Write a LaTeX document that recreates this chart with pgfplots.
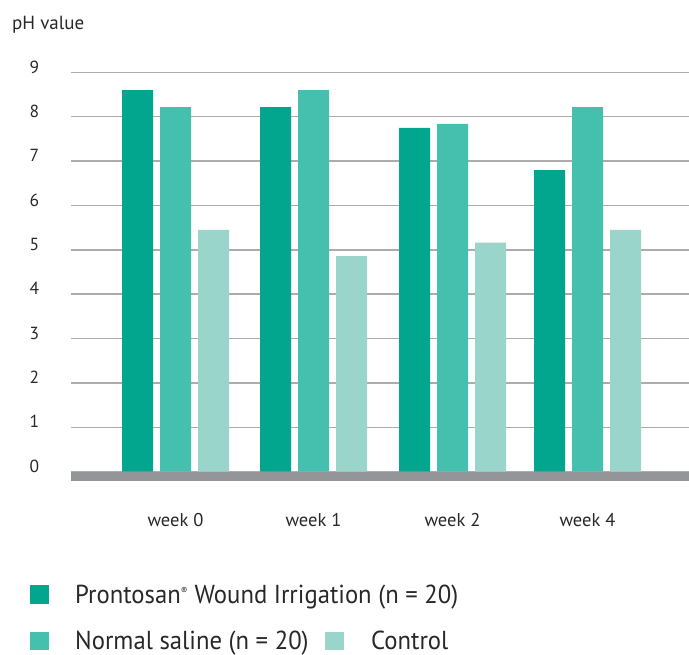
\documentclass[border=0pt]{standalone}
\usepackage{fontspec}
\setmainfont{PT Sans}
\newfontfamily\legfont[FakeStretch=0.95]{PT Sans}
\usepackage{pgfplots}
\pgfplotsset{compat=1.18}
\definecolor{cdark}{RGB}{2,166,142}
\definecolor{cmid}{RGB}{70,192,174}
\definecolor{clight}{RGB}{153,213,202}
\definecolor{cgrid}{RGB}{172,172,172}
\definecolor{cbase}{RGB}{147,149,152}
\definecolor{ctext}{RGB}{40,40,40}
\begin{document}
\begin{tikzpicture}[x=1pt,y=1pt]
\useasboundingbox (0,0) rectangle (689,655);
\begin{axis}[
  at={(71pt,183.4pt)}, anchor=origin,
  scale only axis, width=618pt, height=399.15pt,
  xmin=71, xmax=689, ymin=0, ymax=9,
  ybar=7pt, bar width=31pt,
  axis line style={draw=none}, tick style={draw=none},
  ytick={0,1,...,9},
  ymajorgrids, grid style={cgrid, line width=1.4pt},
  xtick={175.5,313.5,452.5,587.5},
  xticklabels={week 0, week 1, week 2, week 4},
  xticklabel style={anchor=base, yshift=-51pt, font=\fontsize{18.5}{20}\selectfont, text=ctext},
  yticklabel style={anchor=center, xshift=-36.5pt, yshift=5.5pt, font=\fontsize{17.5}{20}\selectfont, text=ctext},
  /pgf/number format/assume math mode=true,
  clip=false,
]
\addplot[fill=cdark, draw=none] coordinates {(175.5,8.60) (313.5,8.22) (452.5,7.75) (587.5,6.80)};
\addplot[fill=cmid, draw=none] coordinates {(175.5,8.22) (313.5,8.60) (452.5,7.84) (587.5,8.22)};
\addplot[fill=clight, draw=none] coordinates {(175.5,5.45) (313.5,4.86) (452.5,5.16) (587.5,5.45)};
\fill[cbase] (axis cs:71,0) rectangle ([yshift=-9.6pt]axis cs:689,0);
\end{axis}
\node[anchor=base west, inner sep=0, text=ctext, font=\fontsize{19}{20}\selectfont] at (12,625) {pH value};
% legend
\fill[cdark] (30,51) rectangle (49,70);
\node[anchor=base west, inner sep=0, text=ctext, font=\legfont\fontsize{26}{28}\selectfont] at (75,51) {Prontosan\textsuperscript{\fontsize{10}{10}\selectfont ®} Wound Irrigation (n = 20)};
\fill[cmid] (30,5) rectangle (49,23);
\node[anchor=base west, inner sep=0, text=ctext, font=\legfont\fontsize{26}{28}\selectfont] at (75,5) {Normal saline (n = 20)};
\fill[clight] (325,5) rectangle (344,23);
\node[anchor=base west, inner sep=0, text=ctext, font=\legfont\fontsize{26}{28}\selectfont] at (371,5) {Control};
\end{tikzpicture}
\end{document}
